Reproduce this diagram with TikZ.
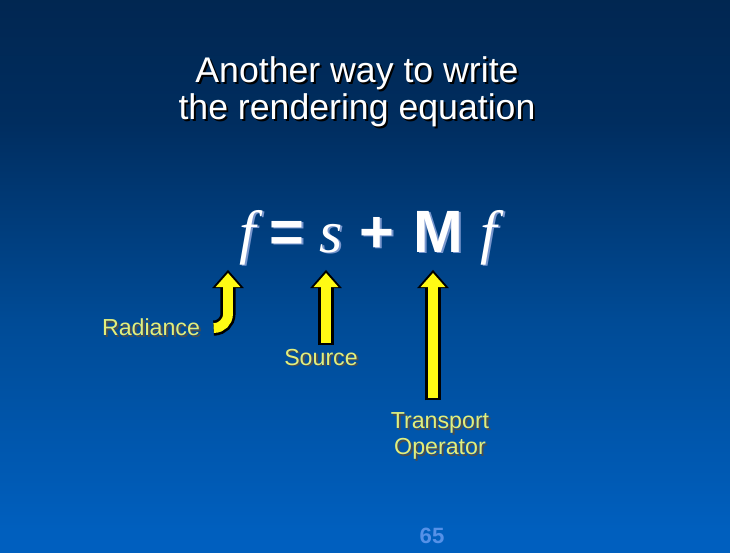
\documentclass[tikz,border=0pt]{standalone}
\usepackage{fontspec}
\setmainfont{Liberation Sans}
\newfontfamily\eqserif{Liberation Serif}
\usepackage{xcolor}
\usetikzlibrary{arrows.meta, calc, positioning}
\definecolor{bgtop}{RGB}{3, 24, 50}
\definecolor{bgupper}{RGB}{0, 45, 95}
\definecolor{bgmid}{RGB}{0, 75, 150}
\definecolor{bglower}{RGB}{0, 95, 190}
\definecolor{bgbot}{RGB}{0, 100, 205}
\definecolor{labelyellow}{RGB}{225, 238, 125}
\definecolor{arrowyellow}{RGB}{255, 250, 20}
\definecolor{eqshadow}{RGB}{120, 150, 205}
\definecolor{pagenum}{RGB}{85, 145, 232}
\pgfdeclareverticalshading{slidebg}{100bp}{color(0bp)=(bgbot); color(27bp)=(bglower); color(46bp)=(bgmid); color(64bp)=(bgupper); color(100bp)=(bgtop)}
\newcommand{\shadowed}[2]{\makebox[0pt][l]{\kern1.1pt\raisebox{-1.1pt}{\textcolor{#1}{#2}}}#2}

\begin{document}
\begin{tikzpicture}[
    x=0.02cm, y=-0.02cm,
    title/.style={font=\fontsize{20.3}{21}\selectfont, text=white, align=center},
    eqpart/.style={font=\fontsize{34}{36}\selectfont, text=white, anchor=base, inner sep=0pt},
    lbl/.style={font=\fontsize{13.2}{14.7}\selectfont, text=labelyellow, align=center, inner sep=1pt},
    callout/.style={
        line width=5.6pt, draw=arrowyellow,
        -{Triangle[length=8pt, width=13.6pt]},
        preaction={draw=black, line width=8.6pt,
            -{Triangle[length=10.4pt, width=17.4pt]},
            shorten >=-1.8pt, shorten <=-1.3pt}
    }
]

% Background
\shade[shading=slidebg] (0,0) rectangle (730,552);
\useasboundingbox (0,0) rectangle (730,552);

% Title
\node[title] (ttl) at (357,93) {\shadowed{black}{Another way to write}\\\shadowed{black}{the rendering equation}};

% Equation
\node[eqpart] (f1) at (248,252) {\shadowed{eqshadow}{\eqserif\itshape f}};
\node[eqpart] (eq) at (287,252) {\shadowed{eqshadow}{\bfseries =}};
\node[eqpart] (s) at (331,252) {\shadowed{eqshadow}{\eqserif\itshape s}};
\node[eqpart] (plus) at (377,252) {\shadowed{eqshadow}{\bfseries +}};
\node[eqpart] (M) at (438,252) {\shadowed{eqshadow}{\bfseries M}};
\node[eqpart] (f2) at (489,252) {\shadowed{eqshadow}{\eqserif\itshape f}};

% Labels
\node[lbl] (rad) at (151,328) {\shadowed{black!70}{Radiance}};
\node[lbl] (src) at (321,358) {\shadowed{black!70}{Source}};
\node[lbl] (trn) at (440,437) {\shadowed{black!70}{Transport}\\\shadowed{black!70}{Operator}};

% Arrow tails
\coordinate (radtail) at (214,328);
\coordinate (srctail) at (326,343);
\coordinate (trntail) at (433,398);

% Arrows
\draw[callout, rounded corners=8pt] (radtail) -| ($(f1.base)+(-20,21)$);
\draw[callout] (srctail) -- ($(s.base)+(-5,21)$);
\draw[callout] (trntail) -- ($(M.base)+(-5,21)$);

% Page number
\node[font=\fontsize{12.6}{14}\selectfont\bfseries, text=pagenum] (pg) at (432,536) {65};

\end{tikzpicture}
\end{document}
